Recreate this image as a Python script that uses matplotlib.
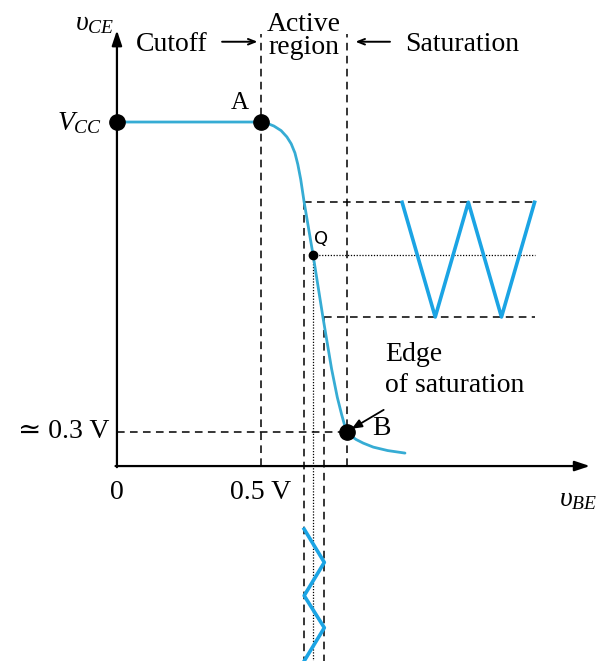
import matplotlib.pyplot as plt

plt.rcParams['mathtext.fontset'] = 'custom'
plt.rcParams['mathtext.rm'] = 'Liberation Serif'
plt.rcParams['mathtext.it'] = 'Liberation Serif:italic'

# transfer characteristic v_CE(v_BE), volts
vbe_curve = [0.0, 0.5, 0.52, 0.545, 0.57, 0.59, 0.605, 0.618, 0.628, 0.638,
             0.65, 0.681, 0.715, 0.745, 0.765, 0.78, 0.79, 0.80, 0.812,
             0.83, 0.855, 0.89, 0.94, 1.0]
vce_curve = [3.0, 3.0, 2.99, 2.965, 2.925, 2.87, 2.81, 2.73, 2.63, 2.5,
             2.3, 1.84, 1.3, 0.85, 0.6, 0.45, 0.36, 0.30, 0.265,
             0.232, 0.2, 0.165, 0.135, 0.113]

VCC = 3.0
pt_A = (0.5, VCC)
pt_B = (0.8, 0.3)
pt_Q = (0.68, 1.84)
vbe_lo, vbe_hi = 0.65, 0.72      # input swing
vce_hi, vce_lo = 2.3, 1.3        # output swing

# output signal (drawn along the v_BE axis as time)
out_t = [0.99, 1.105, 1.22, 1.335, 1.45]
out_v = [2.3, 1.3, 2.3, 1.3, 2.3]
# input signal (drawn downward below the axis as time)
in_v = [0.65, 0.72, 0.65, 0.72, 0.65]
in_t = [-0.55, -0.84, -1.13, -1.41, -1.70]

curve_blue = '#36acd4'
sig_blue = '#1ba4e4'
serif = ['Liberation Serif', 'DejaVu Serif']
dash = (0, (5, 3.5))
dot = (0, (1, 1.3))

fig = plt.figure(figsize=(6.03, 6.61), dpi=100)
ax = fig.add_axes([0, 0, 1, 1])
ax.set_xlim(-0.406, 1.6875)
ax.set_ylim(-1.70, 4.064)
ax.axis('off')

# axes with arrow heads
ax.annotate('', xy=(0, 3.80), xytext=(0, -0.01),
            arrowprops=dict(arrowstyle='-|>,head_length=0.9,head_width=0.3',
                            lw=1.6, color='black', shrinkA=0, shrinkB=0))
ax.annotate('', xy=(1.642, 0), xytext=(-0.005, 0),
            arrowprops=dict(arrowstyle='-|>,head_length=0.9,head_width=0.3',
                            lw=1.6, color='black', shrinkA=0, shrinkB=0))

# region boundaries
ax.plot([0.5, 0.5], [0, 3.77], color='black', lw=1.1, linestyle=dash)
ax.plot([0.8, 0.8], [0, 3.77], color='black', lw=1.1, linestyle=dash)
ax.plot([0, 0.8], [0.3, 0.3], color='black', lw=1.1, linestyle=dash)

# swing limits
ax.plot([vbe_lo, 1.45], [vce_hi, vce_hi], color='black', lw=1.1, linestyle=dash)
ax.plot([vbe_hi, 1.45], [vce_lo, vce_lo], color='black', lw=1.1, linestyle=dash)
ax.plot([vbe_lo, vbe_lo], [vce_hi, -1.70], color='black', lw=1.1, linestyle=dash)
ax.plot([vbe_hi, vbe_hi], [vce_lo, -1.70], color='black', lw=1.1, linestyle=dash)
ax.plot([pt_Q[0], 1.45], [pt_Q[1], pt_Q[1]], color='black', lw=0.9, linestyle=dot)
ax.plot([pt_Q[0], pt_Q[0]], [pt_Q[1], -1.70], color='black', lw=0.9, linestyle=dot)

# curve and signals
ax.plot(vbe_curve, vce_curve, color=curve_blue, lw=2.0, solid_capstyle='round')
ax.plot(out_t, out_v, color=sig_blue, lw=2.6)
ax.plot(in_v, in_t, color=sig_blue, lw=2.6)

# marked points
ax.plot([0, pt_A[0], pt_B[0]], [VCC, pt_A[1], pt_B[1]], 'o', color='black', ms=11)
ax.plot([pt_Q[0]], [pt_Q[1]], 'o', color='black', ms=6)

# labels
ax.text(-0.076, 3.87, r'$\upsilon_{CE}$', fontsize=20, ha='center', va='center')
ax.text(0.19, 3.675, 'Cutoff', family=serif, fontsize=20, ha='center', va='center')
ax.annotate('', xy=(0.488, 3.70), xytext=(0.365, 3.70),
            arrowprops=dict(arrowstyle='->,head_length=0.5,head_width=0.2',
                            lw=1.4, color='black', shrinkA=0, shrinkB=0))
ax.text(0.65, 3.85, 'Active', family=serif, fontsize=20, ha='center', va='center')
ax.text(0.65, 3.65, 'region', family=serif, fontsize=20, ha='center', va='center')
ax.annotate('', xy=(0.828, 3.70), xytext=(0.948, 3.70),
            arrowprops=dict(arrowstyle='->,head_length=0.5,head_width=0.2',
                            lw=1.4, color='black', shrinkA=0, shrinkB=0))
ax.text(1.0, 3.675, 'Saturation', family=serif, fontsize=20, ha='left', va='center')

ax.text(0.427, 3.17, 'A', family=serif, fontsize=18, ha='center', va='center')
ax.text(-0.05, 3.0, r'$V_{CC}$', fontsize=20, ha='right', va='center')
ax.text(0.708, 1.98, 'Q', family='DejaVu Sans', fontsize=13, ha='center', va='center')
ax.text(0.93, 0.97, 'Edge', family=serif, fontsize=20, ha='left', va='center')
ax.text(0.93, 0.70, 'of saturation', family=serif, fontsize=20, ha='left', va='center')
ax.annotate('', xy=(0.815, 0.325), xytext=(0.926, 0.49),
            arrowprops=dict(arrowstyle='-|>,head_length=0.6,head_width=0.25',
                            lw=1.3, color='black', shrinkA=0, shrinkB=0))
ax.text(0.885, 0.33, 'B', family=serif, fontsize=20, ha='left', va='center')
ax.text(-0.025, 0.3, '\u2243 0.3 V', family=serif, fontsize=20, ha='right', va='center')
ax.text(0.0, -0.235, '0', family=serif, fontsize=20, ha='center', va='center')
ax.text(0.5, -0.235, '0.5 V', family=serif, fontsize=20, ha='center', va='center')
ax.text(1.60, -0.28, r'$\upsilon_{BE}$', fontsize=20, ha='center', va='center')

fig.savefig('out.png', dpi=100)
